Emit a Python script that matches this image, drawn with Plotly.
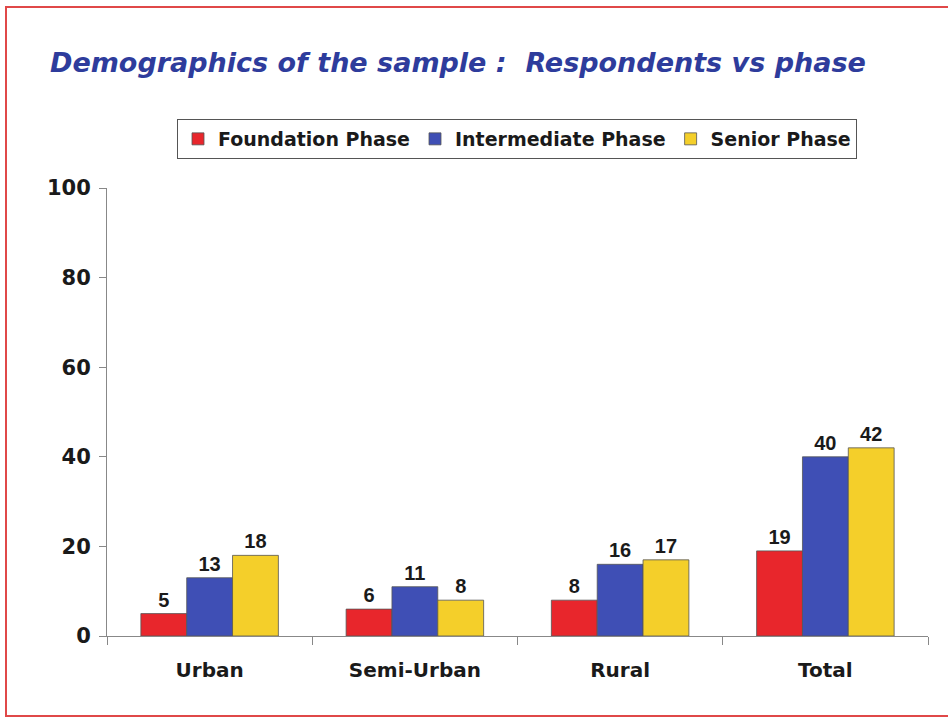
import plotly.graph_objects as go

categories = ["Urban", "Semi-Urban", "Rural", "Total"]
foundation = [5, 6, 8, 19]
intermediate = [13, 11, 16, 40]
senior = [18, 8, 17, 42]

series = [
    ("Foundation Phase", foundation, "#e8262c"),
    ("Intermediate Phase", intermediate, "#3f4fb5"),
    ("Senior Phase", senior, "#f4cf2a"),
]

WIDE = "DejaVu Sans, Verdana, sans-serif"
ARIAL = "Liberation Sans, Arial, sans-serif"

fig = go.Figure()

for name, vals, color in series:
    fig.add_trace(go.Bar(
        x=categories,
        y=vals,
        name=name,
        marker=dict(color=color, line=dict(color="#555555", width=0.8)),
        text=[f"<b>{v}</b>" for v in vals],
        textposition="outside",
        textfont=dict(family=ARIAL, size=20, color="#1a1a1a"),
        cliponaxis=False,
    ))

fig.update_layout(
    width=948,
    height=719,
    paper_bgcolor="white",
    plot_bgcolor="white",
    barmode="group",
    bargap=0.33,
    bargroupgap=0,
    margin=dict(l=107, r=20, t=188, b=83),
    title=dict(
        text="<b><i>Demographics of the sample :  Respondents vs phase</i></b>",
        font=dict(family=WIDE, size=27, color="#2e3c9c"),
        x=50 / 948, xanchor="left", xref="container",
        y=1 - 63 / 719, yanchor="middle", yref="container",
    ),
    legend=dict(
        orientation="h",
        x=(177 - 107) / 821, xanchor="left",
        y=1 + (188 - 119) / 448, yanchor="top",
        bordercolor="#555555", borderwidth=1,
        font=dict(family=WIDE, size=19, color="#1a1a1a", weight="bold"),
        itemwidth=30,
        tracegroupgap=0,
    ),
    showlegend=True,
)

fig.update_yaxes(
    range=[0, 100],
    dtick=20,
    showgrid=False,
    zeroline=False,
    showline=True,
    linecolor="#888888",
    linewidth=1,
    ticks="outside",
    ticklen=7,
    tickcolor="#888888",
    ticklabelstandoff=4,
    tickfont=dict(family=WIDE, size=21, color="#1a1a1a", weight="bold"),
)

fig.update_xaxes(
    showgrid=False,
    showline=True,
    linecolor="#888888",
    linewidth=1,
    ticks="outside",
    tickson="boundaries",
    ticklen=8,
    tickcolor="#888888",
    ticklabelstandoff=16,
    tickfont=dict(family=WIDE, size=20, color="#1a1a1a", weight="bold"),
)

# red frame around the slide
fig.add_shape(
    type="rect", xref="paper", yref="paper",
    x0=(6 - 107) / 821, x1=(955 - 107) / 821,
    y0=-(716 - 636) / 448, y1=1 + (188 - 7) / 448,
    line=dict(color="#e04848", width=2),
)

fig.write_html("out.html", config={"displayModeBar": False},
               post_script="document.body.style.margin='0';")
